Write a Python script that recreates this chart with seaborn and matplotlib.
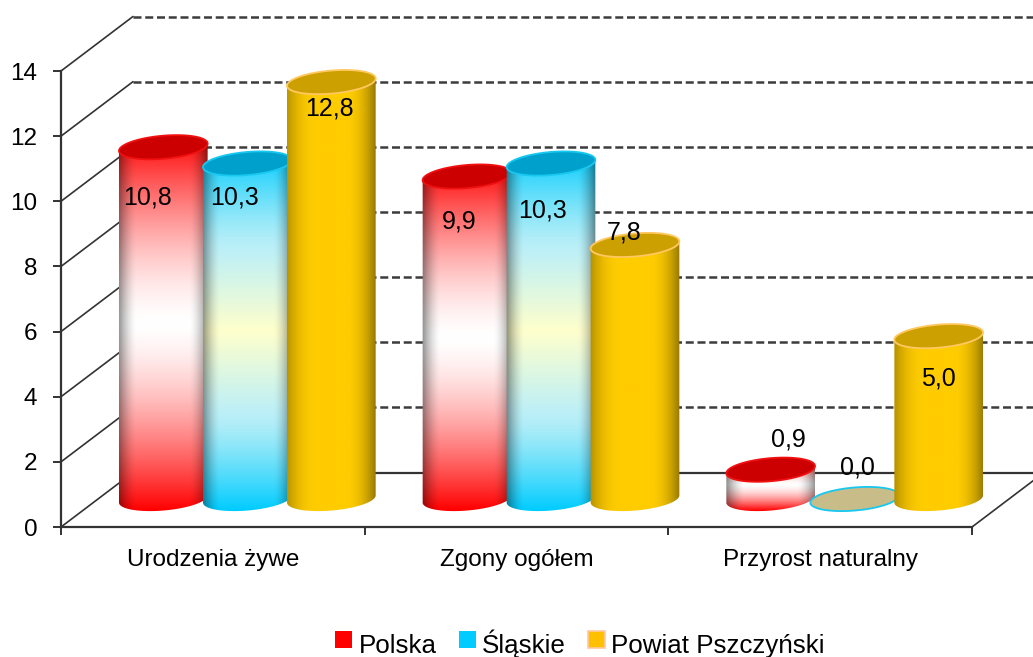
# Wykres słupkowy "3D" (cylindry) - seaborn + matplotlib
import numpy as np
import pandas as pd
import seaborn as sns
import matplotlib.pyplot as plt
from matplotlib.patches import Patch, PathPatch, Polygon
from matplotlib.path import Path

# Dane
kategorie = ['Urodzenia żywe', 'Zgony ogółem', 'Przyrost naturalny']
serie = ['Polska', 'Śląskie', 'Powiat Pszczyński']
polska = [10.8, 9.9, 0.9]
slaskie = [10.3, 10.3, 0.0]
powiat = [12.8, 7.8, 5.0]
y_ticks = [0, 2, 4, 6, 8, 10, 12, 14]

# przesunięcia etykiet względem środka górnej elipsy, w pikselach (w prawo, w dół)
etykiety_dx = [[-16, -8, 18], [-13, -9, 3], [-2, -11, 0]]
etykiety_dy = [[50, 45, -30], [34, 47, -32], [26, -12, 42]]

kolory = {'Polska': '#FF0000', 'Śląskie': '#00CCFF', 'Powiat Pszczyński': '#FFC000'}
gora = ['#CC0000', '#00A0CC', '#CCA000']
obwodka = ['#F01010', '#18C8F0', '#FFC860']

W, H = 1033, 657
sns.set_theme(style='white')
plt.rcParams['font.family'] = ['Liberation Sans', 'DejaVu Sans']

df = pd.DataFrame({
    'kategoria': kategorie * 3,
    'seria': np.repeat(serie, 3),
    'wartosc': polska + slaskie + powiat,
})

fig = plt.figure(figsize=(W / 100, H / 100), dpi=100, facecolor='white')


def osie(lewo, dol, szer, wys, z):
    # osie podane w pikselach obrazka (y od góry)
    a = fig.add_axes([lewo / W, 1 - dol / H, szer / W, wys / H], zorder=z)
    a.set_xlim(-0.5, 2.5)
    a.set_ylim(0, 14)
    a.patch.set_alpha(0)
    return a


SZER, WYS = 911, 456
ax_tyl = osie(133, 472.5, SZER, WYS, 1)
ax = osie(61, 527, SZER, WYS, 2)
ax_slupki = osie(95.5, 499, SZER, WYS, 3)
sx, sy = SZER / 3, WYS / 14

# Tylna ściana - linie siatki
ax_tyl.set_yticks(y_ticks[1:])
ax_tyl.set_xticks([])
ax_tyl.tick_params(left=False, labelleft=False)
ax_tyl.grid(True, axis='y', color='#3c3c3c', lw=1.8, ls=(0, (3.2, 1.5)))
ax_tyl.set_axisbelow(True)
for linia in ax_tyl.get_ygridlines():
    linia.set_clip_on(False)
for s in ['top', 'left', 'right']:
    ax_tyl.spines[s].set_visible(False)
ax_tyl.spines['bottom'].set_color('#333333')
ax_tyl.spines['bottom'].set_linewidth(1.6)

# Przednia płaszczyzna - osie, podziałka, skosy
ax.set_yticks(y_ticks)
ax.set_xticks([-0.5, 0.5, 1.5, 2.5])
ax.set_xticklabels([])
ax.set_xticks([0, 1, 2], minor=True)
ax.set_xticklabels(kategorie, minor=True, fontsize=17.5, color='black')
ax.tick_params(axis='x', which='major', length=6, width=1.3, color='#222222', bottom=True)
ax.tick_params(axis='x', which='minor', length=0, pad=16)
ax.tick_params(axis='y', length=6, width=1.3, color='#222222', left=True,
               labelsize=17.5, labelcolor='black', pad=11)
for s in ['top', 'right']:
    ax.spines[s].set_visible(False)
for s in ['left', 'bottom']:
    ax.spines[s].set_color('#333333')
    ax.spines[s].set_linewidth(1.6)

dx, dy = 72 / sx, 54.5 / sy
for t in y_ticks:
    ax.plot([-0.5, -0.5 + dx], [t, t + dy], color='#333333', lw=1.2, clip_on=False)
ax.plot([2.5, 2.5 + dx], [0, dy], color='#333333', lw=1.2, clip_on=False)

# Słupki z seaborna - z nich bierzemy położenie cylindrów
sns.barplot(data=df, x='kategoria', y='wartosc', hue='seria', order=kategorie, hue_order=serie,
            palette=kolory, width=0.83, gap=0, legend=False, ax=ax_slupki)
ax_slupki.set_axis_off()

A, B, KAT = 44.5, 11.5, np.radians(5)


def elipsa(cx, cy, t):
    px = A * np.cos(t) * np.cos(KAT) - B * np.sin(t) * np.sin(KAT)
    py = A * np.cos(t) * np.sin(KAT) + B * np.sin(t) * np.cos(KAT)
    return np.column_stack([cx + px / sx, cy + py / sy])


def kolor_pola(i, u, v):
    # u - odległość od osi cylindra (-1..1), v - odległość od połowy wysokości (0-1)
    v = v[..., None]
    if i == 0:
        s = np.clip(v, 0, 1) ** 1.5
        c = (1 - s) * np.array([1, 1, 1]) + s * np.array([1, 0, 0])
    elif i == 1:
        s1 = np.clip(v / 0.45, 0, 1)
        s2 = np.clip((v - 0.45) / 0.55, 0, 1) ** 1.3
        c = (1 - s1) * np.array([1, 1, 0.8]) + s1 * np.array([0.74, 0.94, 0.97])
        c = (1 - s2) * c + s2 * np.array([0, 0.8, 1])
    else:
        c = np.ones_like(v) * np.array([1, 0.8, 0])
    if i == 2:
        k = np.clip((np.abs(u) - 0.35) / 0.65, 0, 1)[..., None] ** 2
        moc = np.where(u[..., None] < 0, 0.28, 0.4)
        return c * (1 - moc * k)
    k = np.clip((np.abs(u) - 0.6) / 0.4, 0, 1)[..., None]
    return c * (1 - 0.42 * k ** 1.6)


for i, kontener in enumerate(ax_slupki.containers):
    for j, bar in enumerate(kontener):
        cx = bar.get_x() + bar.get_width() / 2
        h = bar.get_height()
        bar.set_visible(False)

        if h > 0:
            dol = elipsa(cx, 0, np.linspace(np.pi, 2 * np.pi, 60))
            gor = elipsa(cx, h, np.linspace(0, np.pi, 60))
            ksztalt = np.vstack([dol, gor, dol[:1]])
            maska = PathPatch(Path(ksztalt), fc='none', ec='none', zorder=2 + i * 3,
                              transform=ax_slupki.transData, clip_on=False)
            ax_slupki.add_patch(maska)

            x0, x1 = cx - 1.1 * A / sx, cx + 1.1 * A / sx
            y0, y1 = -1.2 * B / sy, h + 1.2 * B / sy
            xx, yy = np.meshgrid(np.linspace(x0, x1, 120), np.linspace(y0, y1, 300))
            u = (xx - cx) * sx / A
            v = np.abs(yy - h / 2) / (h / 2 + B / sy)
            im = ax_slupki.imshow(kolor_pola(i, u, v), extent=[x0, x1, y0, y1], origin='lower',
                                  aspect='auto', zorder=2 + i * 3, interpolation='bilinear')
            im.set_clip_box(fig.bbox)
            im.set_clip_path(maska)
            wierzch = gora[i]
        else:
            wierzch = '#C8BC88'

        top = Polygon(elipsa(cx, h, np.linspace(0, 2 * np.pi, 120)), closed=True, fc=wierzch,
                      ec=obwodka[i], lw=1.3, zorder=3 + i * 3, clip_on=False)
        ax_slupki.add_patch(top)

        ax_slupki.annotate(f'{h:.1f}'.replace('.', ','), (cx, h),
                           xytext=(etykiety_dx[i][j], -etykiety_dy[i][j]),
                           textcoords='offset pixels', ha='center', va='center',
                           fontsize=18, color='black', zorder=30, annotation_clip=False)

ax_slupki.set_xlim(-0.5, 2.5)
ax_slupki.set_ylim(0, 14)

# Legenda
uchwyty = [Patch(fc=kolory[s], ec='#FFC8A0' if s == serie[2] else 'none', lw=1.2, label=s) for s in serie]
leg = fig.legend(handles=uchwyty, loc='center', bbox_to_anchor=(580 / W, 1 - 644 / H), ncols=3,
                 frameon=False, fontsize=18.7, handlelength=0.65, handleheight=0.65,
                 handletextpad=0.25, columnspacing=0.85, borderpad=0, labelcolor='black')
for p in leg.get_patches():
    p.set_y(p.get_y() + 3.5)

plt.savefig('out.png', dpi=100)
